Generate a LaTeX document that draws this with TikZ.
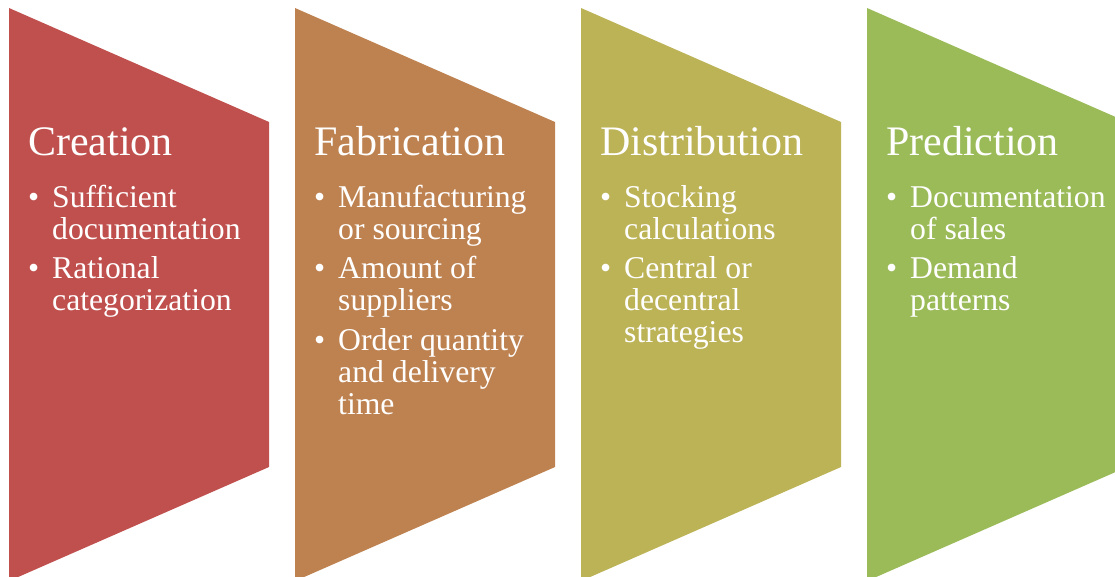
\documentclass[tikz,border=0pt]{standalone}
\usepackage{fontspec}
\setmainfont{Liberation Serif}
\definecolor{cRed}{HTML}{C0504D}
\definecolor{cOrange}{HTML}{BE8251}
\definecolor{cOlive}{HTML}{BCB256}
\definecolor{cGreen}{HTML}{9BBB59}
\tikzset{
  title/.style={anchor=base west, inner sep=0pt, text=white, font=\fontsize{42}{42}\selectfont},
  bul/.style={anchor=base west, inner sep=0pt, text=white, font=\fontsize{31.7}{32.4}\selectfont},
  item/.style={anchor=base west, inner sep=0pt, text=white, align=left, font=\fontsize{31.7}{32.4}\selectfont},
}
\newcommand{\chev}[2]{\fill[#2] (#1,8) -- (#1+260,122) -- (#1+260,467) -- (#1,581) -- cycle;}
\begin{document}
\begin{tikzpicture}[x=1pt,y=-1pt]
\useasboundingbox (0,0) rectangle (1115,576);
\begin{scope}
\clip (0,0) rectangle (1115,576);
\chev{9}{cRed}
\chev{295}{cOrange}
\chev{581}{cOlive}
\chev{867}{cGreen}
\end{scope}
% base anchor of a multi-line node = baseline of its last line
% Creation
\node[title] (t1) at (28,155) {Creation};
\node[bul] (b11) at (28,207) {•};
\node[item] (i11) at (52,239.4) {Sufficient\\documentation};
\node[bul] (b12) at (28,278) {•};
\node[item] (i12) at (52,310.4) {Rational\\categorization};
% Fabrication
\node[title] (t2) at (314,155) {Fabrication};
\node[bul] (b21) at (314,207) {•};
\node[item] (i21) at (338,239.4) {Manufacturing\\or sourcing};
\node[bul] (b22) at (314,278) {•};
\node[item] (i22) at (338,310.4) {Amount of\\suppliers};
\node[bul] (b23) at (314,350) {•};
\node[item] (i23) at (338,414.8) {Order quantity\\and delivery\\time};
% Distribution
\node[title] (t3) at (600,155) {Distribution};
\node[bul] (b31) at (600,207) {•};
\node[item] (i31) at (624,239.4) {Stocking\\calculations};
\node[bul] (b32) at (600,278) {•};
\node[item] (i32) at (624,342.8) {Central or\\decentral\\strategies};
% Prediction
\node[title] (t4) at (886,155) {Prediction};
\node[bul] (b41) at (886,207) {•};
\node[item] (i41) at (910,239.4) {Documentation\\of sales};
\node[bul] (b42) at (886,278) {•};
\node[item] (i42) at (910,310.4) {Demand\\patterns};
\end{tikzpicture}
\end{document}
